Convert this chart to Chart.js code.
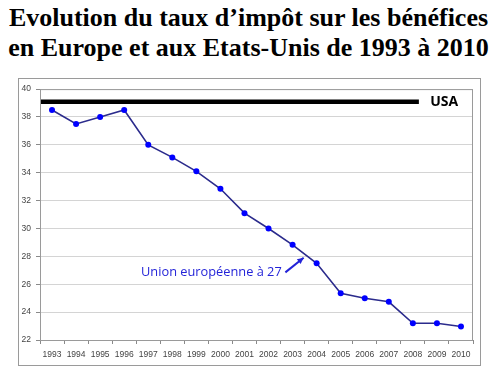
<!DOCTYPE html>
<html><head><meta charset="utf-8">
<script src="https://cdn.jsdelivr.net/npm/chart.js@4"></script>
<style>
html,body{margin:0;padding:0;background:#fff;width:497px;height:377px;overflow:hidden}
#title{position:absolute;left:0;top:3px;width:497px;text-align:center;font-family:"Liberation Serif","Times New Roman",serif;font-weight:bold;font-size:26px;line-height:30px;color:#000}
#box{position:absolute;left:18px;top:78px;width:461px;height:286px;border:1px solid #9a9a9a}
canvas{display:block}
</style></head><body>
<div id="title">Evolution du taux d’impôt sur les bénéfices<br>en Europe et aux Etats-Unis de 1993 à 2010</div>
<div id="box"><canvas id="c" width="461" height="286"></canvas></div>
<script>
const years = ['1993','1994','1995','1996','1997','1998','1999','2000','2001','2002','2003','2004','2005','2006','2007','2008','2009','2010'];
const euRate = [38.5,37.5,38.0,38.5,36.0,35.1,34.1,32.85,31.1,30.0,28.83,27.5,25.35,25.0,24.74,23.2,23.2,22.97];
const usaRate = 39.1;
const usaSpan = [0, 15.75];
const yTicks = [22,24,26,28,30,32,34,36,38,40];
const euLabel = 'Union européenne à 27';
const usaLabel = 'USA';

const overlay = {
  id:'overlay',
  afterDraw(chart){
    const ctx = chart.ctx, a = chart.chartArea;
    const x2 = chart.scales.x2, y = chart.scales.y;
    ctx.save();
    ctx.strokeStyle = '#9a9a9a'; ctx.lineWidth = 1;
    ctx.strokeRect(a.left+0.5, a.top+0.5, a.right-a.left-1, a.bottom-a.top);
    ctx.fillStyle = '#000';
    ctx.font = 'bold 14px "Open Sans","Liberation Sans",sans-serif';
    ctx.textBaseline = 'middle'; ctx.textAlign = 'left';
    ctx.fillText(usaLabel, x2.getPixelForValue(16.22), y.getPixelForValue(usaRate));
    ctx.fillStyle = '#2323d8';
    ctx.font = '12.8px "Open Sans","Liberation Sans",sans-serif';
    ctx.fillText(euLabel, x2.getPixelForValue(4.2), y.getPixelForValue(26.87));
    const tx = x2.getPixelForValue(10.2), ty = y.getPixelForValue(26.85);
    const hx = x2.getPixelForValue(10.96), hy = y.getPixelForValue(27.9);
    ctx.strokeStyle = '#2323d8'; ctx.lineWidth = 2;
    ctx.beginPath(); ctx.moveTo(tx,ty); ctx.lineTo(hx,hy); ctx.stroke();
    const ang = Math.atan2(hy-ty, hx-tx);
    ctx.beginPath();
    ctx.moveTo(hx,hy);
    ctx.lineTo(hx-7*Math.cos(ang-0.45), hy-7*Math.sin(ang-0.45));
    ctx.lineTo(hx-7*Math.cos(ang+0.45), hy-7*Math.sin(ang+0.45));
    ctx.closePath(); ctx.fillStyle='#2323d8'; ctx.fill();
    ctx.restore();
  }
};

new Chart(document.getElementById('c'), {
  type:'line',
  data:{
    labels: years,
    datasets:[
      {label:'USA', data: usaSpan.map(v=>({x:v,y:usaRate})), xAxisID:'x2', borderColor:'#000', borderWidth:4.5, pointRadius:0, fill:false},
      {label:'UE27', data: euRate, xAxisID:'x', borderColor:'#2b2b8c', borderWidth:1.6, pointRadius:3, pointBackgroundColor:'#0000ff', pointBorderColor:'#0000ff', pointBorderWidth:0, tension:0, fill:false}
    ]
  },
  plugins:[overlay],
  options:{
    responsive:false, animation:false,
    layout:{padding:{top:10,right:7,left:0,bottom:0}},
    plugins:{legend:{display:false}, tooltip:{enabled:false}, title:{display:false}},
    scales:{
      x:{type:'category', offset:true,
         grid:{offset:true, drawOnChartArea:false, drawTicks:true, tickLength:4, color:'#8a8a8a'},
         border:{color:'#8a8a8a'},
         ticks:{color:'#444', font:{family:'"Liberation Sans",Arial,sans-serif', size:8.5}, maxRotation:0, autoSkip:false, padding:6},
         afterFit(s){ s.height = 25; }
      },
      x2:{type:'linear', min:0, max:18, display:false},
      y:{min:22, max:40,
         afterBuildTicks(s){ s.ticks = yTicks.map(v=>({value:v})); },
         grid:{color:'#d4d4d4', tickLength:4, tickColor:'#8a8a8a'},
         border:{color:'#8a8a8a'},
         ticks:{color:'#444', font:{family:'"Liberation Sans",Arial,sans-serif', size:8.5}, padding:5},
         afterFit(s){ s.width = 21; }
      }
    }
  }
});
</script>
</body></html>
